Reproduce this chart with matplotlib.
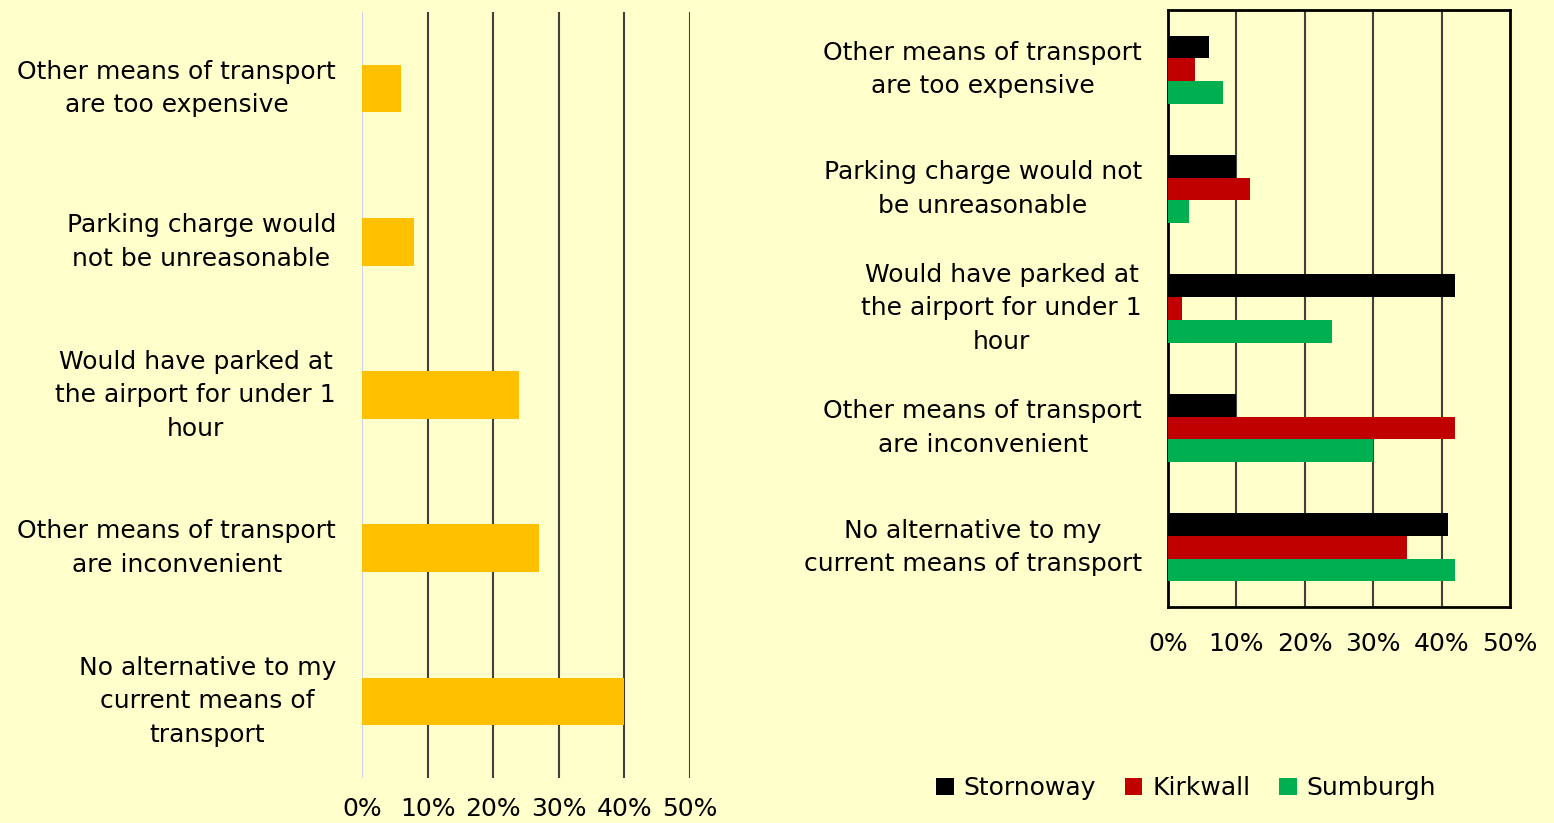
import numpy as np
import matplotlib
matplotlib.use("Agg")
from matplotlib import pyplot as plt
from matplotlib.transforms import ScaledTranslation

# data
reasons_left = ["Other means of transport\nare too expensive",
                "Parking charge would\nnot be unreasonable",
                "Would have parked at\nthe airport for under 1\nhour",
                "Other means of transport\nare inconvenient",
                "No alternative to my\ncurrent means of\ntransport"]
total = [6, 8, 24, 27, 40]

reasons_right = ["Other means of transport\nare too expensive",
                 "Parking charge would not\nbe unreasonable",
                 "Would have parked at\nthe airport for under 1\nhour",
                 "Other means of transport\nare inconvenient",
                 "No alternative to my\ncurrent means of transport"]
airports = ["Stornoway", "Kirkwall", "Sumburgh"]
stornoway = [6, 10, 42, 10, 41]
kirkwall = [4, 12, 2, 42, 35]
sumburgh = [8, 3, 24, 30, 42]

ticks = [0, 10, 20, 30, 40, 50]
tick_labels = ["0%", "10%", "20%", "30%", "40%", "50%"]

bg = "#FFFFCC"
fontsize = 18
plt.rcParams['font.family'] = ['DejaVu Sans']

W, H = 1554, 823
fig = plt.figure(figsize=(W / 100, H / 100), dpi=100, facecolor=bg)


def category_labels(ax, labels):
    # category names drawn by hand, centred lines, right edge 26px off the axis
    off = ScaledTranslation(-0.26, 0.0, fig.dpi_scale_trans)
    tr = ax.get_yaxis_transform() + off
    for y, txt in enumerate(labels):
        ax.text(0, y, txt, transform=tr, ha="right", va="center",
                multialignment="center", fontsize=fontsize, linespacing=1.5)
    ax.set_yticks(range(len(labels)))
    ax.set_yticklabels([])


# ---- left chart
axL = fig.add_axes([362 / W, 1 - 778 / H, 328 / W, 766 / H])
axL.set_facecolor(bg)
yL = np.arange(len(total))
axL.barh(yL, total, height=0.31, color="#FFC000", zorder=3)
axL.set_xlim(0, 50)
axL.set_ylim(len(total) - 0.5, -0.5)
axL.set_xticks(ticks)
axL.set_xticklabels(tick_labels, fontsize=fontsize)
category_labels(axL, reasons_left)
for t in ticks[1:]:
    axL.axvline(t, color="#404040", lw=1.5, zorder=1)
axL.axvline(0, color="#D0D4E4", lw=1.5, zorder=1)
for s in axL.spines.values():
    s.set_visible(False)
axL.tick_params(length=0, axis="y")
axL.tick_params(length=0, axis="x", pad=14)

# ---- right chart
axR = fig.add_axes([1168 / W, 1 - 607 / H, 342 / W, 597 / H])
axR.set_facecolor(bg)
yR = np.arange(len(stornoway))
h = 0.19
colors = ["#000000", "#C00000", "#00B050"]
for i, (vals, name) in enumerate(zip([stornoway, kirkwall, sumburgh], airports)):
    axR.barh(yR + (i - 1) * h, vals, height=h, color=colors[i], label=name, zorder=3)
axR.set_xlim(0, 50)
axR.set_ylim(len(stornoway) - 0.5, -0.5)
axR.set_xticks(ticks)
axR.set_xticklabels(tick_labels, fontsize=fontsize)
category_labels(axR, reasons_right)
for t in ticks[1:-1]:
    axR.axvline(t, color="#404040", lw=1.5, zorder=1)
for s in axR.spines.values():
    s.set_color("black")
    s.set_linewidth(2)
axR.tick_params(length=0, axis="y")
axR.tick_params(length=0, axis="x", pad=18)

fig.legend(loc="center", bbox_to_anchor=(1186 / W, 1 - 788 / H), ncol=3,
           frameon=False, fontsize=fontsize, handlelength=0.7, handleheight=0.7,
           handletextpad=0.4, columnspacing=1.15)

fig.savefig("out.png", dpi=100, facecolor=bg)
